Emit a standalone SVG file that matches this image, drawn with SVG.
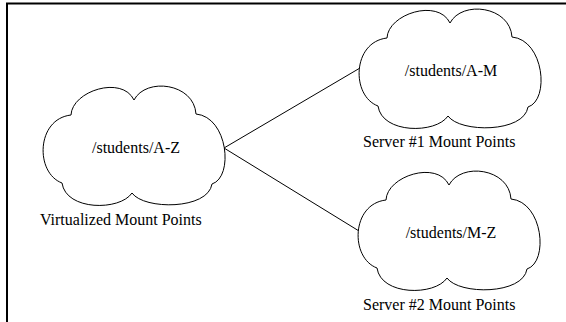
<svg xmlns="http://www.w3.org/2000/svg" width="566" height="322" viewBox="0 0 566 322">
  <style>
    .cloud { fill: #ffffff; stroke: #000000; stroke-width: 1; }
    .link { stroke: #000000; stroke-width: 1; fill: none; }
    .frame { stroke: #000000; stroke-width: 2; fill: none; }
    .lbl { font-size: 16px; fill: #000000; }
    .mid { text-anchor: middle; }
  </style>
  <defs>
    <!-- six-lobed cloud outline, 180 x 117 -->
    <path id="cloudShape" d="M 27 28 C 28 4, 78 -12, 90 13 C 102 -10, 150 -4, 152 27 C 184 30, 190 90, 168 97 C 164 123, 100 123, 88 106 C 76 124, 22 124, 18 96 C -9 86, -8 32, 27 28 Z"/>
  </defs>

  <rect width="566" height="322" fill="#ffffff"/>
  <!-- page frame: top and left edges -->
  <path class="frame" d="M 7 322 L 7 3.5 L 566 3.5"/>

  <g id="connectors">
    <line class="link" x1="224" y1="148" x2="360" y2="68"/>
    <line class="link" x1="224" y1="148" x2="359" y2="231"/>
  </g>

  <g id="virtual" font-family="Liberation Serif, Times New Roman, DejaVu Serif, serif">
    <use href="#cloudShape" class="cloud" transform="translate(44,87)"/>
    <text class="lbl mid" x="136" y="153">/students/A-Z</text>
    <text class="lbl" x="40" y="225">Virtualized Mount Points</text>
  </g>

  <g id="server1" font-family="Liberation Serif, Times New Roman, DejaVu Serif, serif">
    <use href="#cloudShape" class="cloud" transform="translate(360,10)"/>
    <text class="lbl mid" x="451" y="76">/students/A-M</text>
    <text class="lbl" x="363" y="147">Server #1 Mount Points</text>
  </g>

  <g id="server2" font-family="Liberation Serif, Times New Roman, DejaVu Serif, serif">
    <use href="#cloudShape" class="cloud" transform="translate(359,172)"/>
    <text class="lbl mid" x="451" y="238">/students/M-Z</text>
    <text class="lbl" x="363" y="310">Server #2 Mount Points</text>
  </g>
</svg>
